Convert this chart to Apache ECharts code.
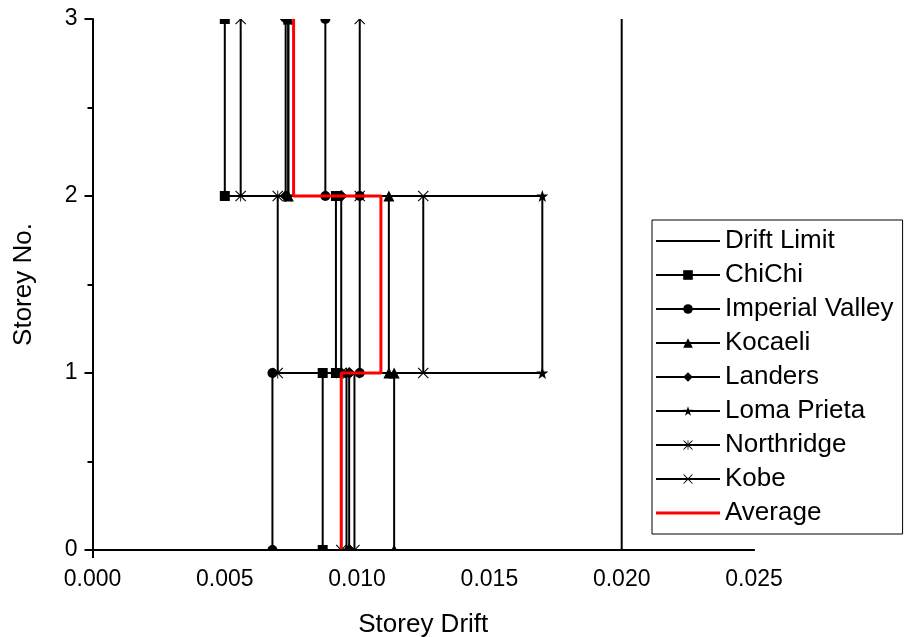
<!DOCTYPE html>
<html>
<head>
<meta charset="utf-8">
<script src="https://cdn.jsdelivr.net/npm/echarts@6/dist/echarts.min.js"></script>
<style>html,body{margin:0;padding:0;background:#fff;overflow:hidden}#c{width:915px;height:637px}</style>
</head>
<body>
<div id="c"></div>
<script>
// Storey levels (floor levels) and storey drift per storey (storey 1, 2, 3)
const storeyLevels = [0, 1, 2, 3];
const driftLimit = 0.020;
const chiChi       = [0.0087, 0.0092, 0.0050];
const imperialVal  = [0.0068, 0.0101, 0.0088];
const kocaeli      = [0.0114, 0.0112, 0.0074];
const landers      = [0.0097, 0.0094, 0.0073];
const lomaPrieta   = [0.0096, 0.0170, 0.0074];
const northridge   = [0.0094, 0.0070, 0.0056];
const kobe         = [0.0099, 0.0125, 0.0101];
const average      = [0.0094, 0.0109, 0.0076];
const seriesNames = ['Drift Limit','ChiChi','Imperial Valley','Kocaeli','Landers','Loma Prieta','Northridge','Kobe','Average'];

function stepPoints(d) {
  const pts = [];
  for (let i = 0; i < d.length; i++) {
    pts.push([d[i], storeyLevels[i]]);
    pts.push([d[i], storeyLevels[i + 1]]);
  }
  return pts;
}

const STAR = 'path://M50,0 L61.8,35.3 L98.1,35.3 L68.8,57.1 L79.4,92.7 L50,71 L20.6,92.7 L31.2,57.1 L1.9,35.3 L38.2,35.3 Z';
const CROSS = 'path://M0,7 L7,0 L50,43 L93,0 L100,7 L57,50 L100,93 L93,100 L50,57 L7,100 L0,93 L43,50 Z';
const ASTER = 'path://M0,7 L7,0 L50,43 L93,0 L100,7 L57,50 L100,93 L93,100 L50,57 L7,100 L0,93 L43,50 Z M46,0 L46,100 L54,100 L54,0 Z';
// plain line legend icon (zero-area corner segments keep the bounding box)
const LINE_ICON = 'path://M0,0 L0.01,0 Z M64,12 L63.99,12 Z M0,5 L64,5 L64,7 L0,7 Z';
const RED_ICON = 'path://M0,0 L0.01,0 Z M64,12 L63.99,12 Z M0,4.5 L64,4.5 L64,7.5 L0,7.5 Z';

const FONT = 'Liberation Sans';

function blackSeries(name, d, symbol, size) {
  return {
    name: name, type: 'line', data: stepPoints(d),
    symbol: symbol, symbolSize: size, showSymbol: true,
    lineStyle: { color: '#000', width: 2 },
    itemStyle: { color: '#000', borderWidth: 0 },
    clip: false, z: 2, animation: false
  };
}

const series = [
  { name: 'Drift Limit', type: 'line', data: [[driftLimit, storeyLevels[0]], [driftLimit, storeyLevels[3]]],
    symbol: 'none', lineStyle: { color: '#000', width: 2 }, itemStyle: { color: '#000' }, z: 2, animation: false },
  blackSeries('ChiChi', chiChi, 'rect', 10),
  blackSeries('Imperial Valley', imperialVal, 'circle', 10),
  blackSeries('Kocaeli', kocaeli, 'triangle', 11),
  blackSeries('Landers', landers, 'diamond', 12),
  blackSeries('Loma Prieta', lomaPrieta, STAR, 12),
  blackSeries('Northridge', northridge, ASTER, 11),
  blackSeries('Kobe', kobe, CROSS, 11),
  { name: 'Average', type: 'line', data: stepPoints(average), symbol: 'none',
    lineStyle: { color: '#ff0000', width: 3 }, itemStyle: { color: '#ff0000' }, z: 4, animation: false }
];

const legendData = seriesNames.map(n => {
  if (n === 'Drift Limit') return { name: n, icon: LINE_ICON };
  if (n === 'Average') return { name: n, icon: RED_ICON };
  return { name: n };
});

const chart = echarts.init(document.getElementById('c'), null, { renderer: 'canvas', width: 915, height: 637 });
chart.setOption({
  backgroundColor: '#fff',
  animation: false,
  grid: { left: 92.5, top: 19, width: 661.5, height: 531, containLabel: false, outerBoundsMode: 'none' },
  xAxis: {
    type: 'value', min: 0, max: 0.025, interval: 0.005, z: 10,
    name: 'Storey Drift', nameLocation: 'middle', nameGap: 62,
    nameTextStyle: { fontFamily: FONT, fontSize: 26, color: '#000' },
    axisLine: { show: true, onZero: false, lineStyle: { color: '#000', width: 2 } },
    axisTick: { show: true, inside: false, length: 8, lineStyle: { color: '#000', width: 2 } },
    minorTick: { show: true, splitNumber: 2, length: 5, lineStyle: { color: '#000', width: 2 } },
    splitLine: { show: false },
    axisLabel: { fontFamily: FONT, fontSize: 23, color: '#000', margin: 18, formatter: v => v.toFixed(3) }
  },
  yAxis: {
    type: 'value', min: 0, max: 3, interval: 1, z: 10,
    name: 'Storey No.', nameLocation: 'middle', nameGap: 56, nameRotate: 90,
    nameTextStyle: { fontFamily: FONT, fontSize: 26, color: '#000' },
    axisLine: { show: true, onZero: false, lineStyle: { color: '#000', width: 2 } },
    axisTick: { show: true, inside: false, length: 8, lineStyle: { color: '#000', width: 2 } },
    minorTick: { show: true, splitNumber: 2, length: 5, lineStyle: { color: '#000', width: 2 } },
    splitLine: { show: false },
    axisLabel: { fontFamily: FONT, fontSize: 23, color: '#000', margin: 15 }
  },
  legend: {
    data: legendData, orient: 'vertical', left: 652, top: 220,
    padding: [8, 9, 8, 3], itemGap: 8, itemWidth: 64, itemHeight: 12,
    borderColor: '#000', borderWidth: 1, backgroundColor: '#fff',
    textStyle: { fontFamily: FONT, fontSize: 26, color: '#000', lineHeight: 26 },
    selectedMode: false, z: 12
  },
  graphic: [
    { type: 'rect', z: 50, silent: true, shape: { x: 94, y: 0, width: 821, height: 19 }, style: { fill: '#fff' } },
    { type: 'rect', z: 50, silent: true, shape: { x: 94, y: 551, width: 680, height: 13 }, style: { fill: '#fff' } }
  ],
  series: series
});
</script>
</body>
</html>
